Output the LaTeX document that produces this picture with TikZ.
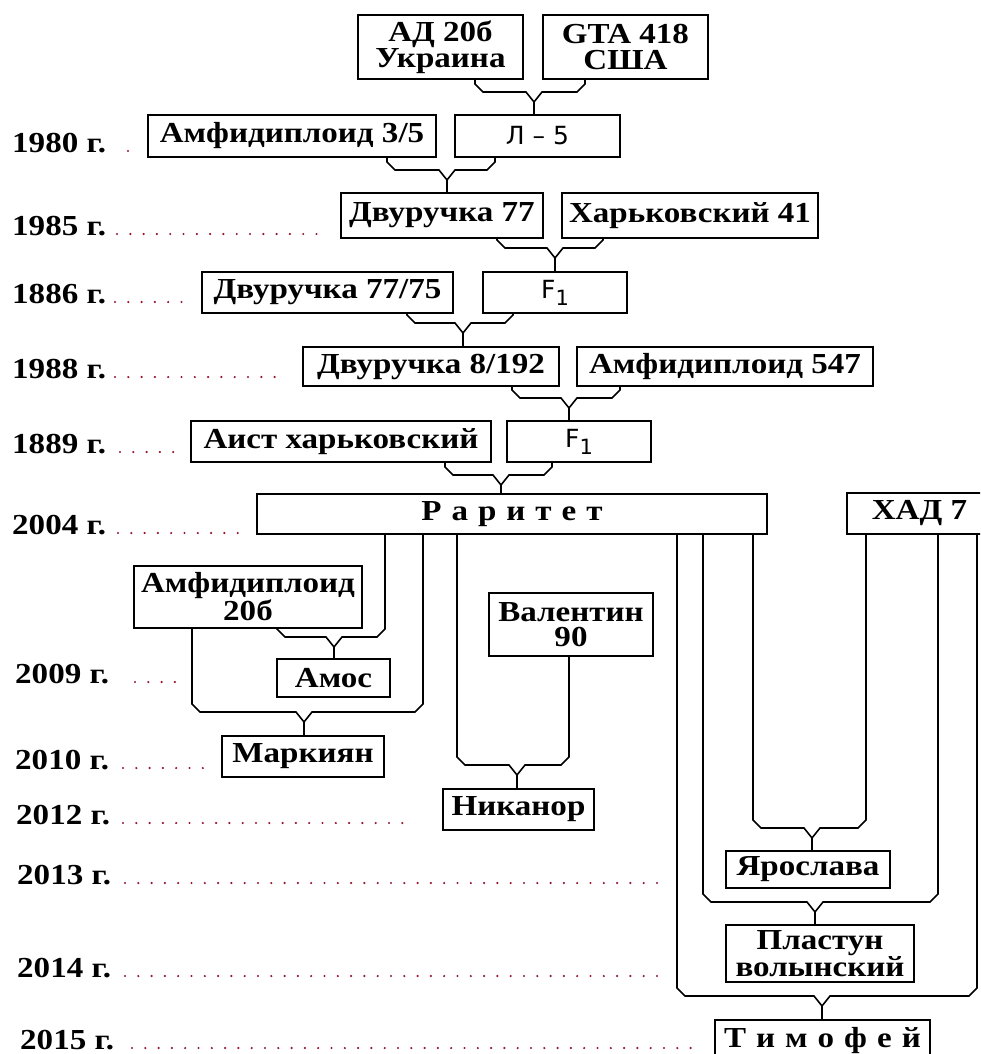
\documentclass[tikz,border=0pt]{standalone}
\usepackage{fontspec}
\setmainfont{Liberation Serif}[FakeStretch=1.14]
\newfontfamily\sansf{DejaVu Sans}
\definecolor{dotc}{RGB}{150,20,45}
\tikzset{
 bx/.style={draw, line width=1.6pt, inner sep=0pt, align=center, font=\fontsize{29}{25.5}\selectfont\bfseries},
 conn/.style={line width=1.6pt, line join=miter},
 yr/.style={anchor=base west, inner sep=0pt, font=\fontsize{29}{29}\selectfont\bfseries},
 dotl/.style={dotc, line width=2.4pt, line cap=round, dash pattern=on 0pt off 13.3pt},
}
\newcommand\boxn[6]{\node[bx, minimum width=#4pt, minimum height=#5pt] (#1) at (#2,#3) {#6};}
\newcommand\mergeY[7]{%
 \draw[conn] (#1.south -| #2,0) -- (#2,#7-8) -- (#2+8,#7) -- (#6-8,#7) -- (#6,#7+10) -- (#6+8,#7) -- (#4-8,#7) -- (#4,#7-8) -- (#3.south -| #4,0);
 \draw[conn] (#6,#7+10) -- (#5.north -| #6,0);}
\newcommand\yearl[6]{% name, x, baseline, text, dot start, dot end
 \node[yr] (#1) at (#2,#3) {#4};
 \coordinate (#1s) at (#5,#3-1);
 \coordinate (#1e) at (#6,#3-1);
 \draw[dotl] (#1s) -- (#1e);}
\newcommand\Fone{{\sansf\mdseries\fontsize{25}{25}\selectfont F\raisebox{-7pt}{\fontsize{21}{21}\selectfont 1}}}
\def\g{\hspace{10pt}}
\begin{document}
\begin{tikzpicture}[x=1pt,y=-1pt]
\useasboundingbox (0,0) rectangle (980,1054);
\clip (0,0) rectangle (980,1054);
% boxes
\boxn{ad}{440.5}{47}{165}{64}{АД 20б\\Украина}
\boxn{gta}{625.5}{47}{165}{64}{GTA 418\\США}
\boxn{amf35}{292}{136}{288}{42}{Амфидиплоид 3/5}
\boxn{l5}{537.5}{136}{165}{42}{{\sansf\mdseries\fontsize{25}{25}\selectfont Л – 5}}
\boxn{dv77}{442}{215.5}{202}{45}{Двуручка 77}
\boxn{har41}{690}{215.5}{256}{45}{Харьковский 41}
\boxn{dv7775}{327.5}{292.5}{251}{41}{Двуручка 77/75}
\boxn{f1a}{555}{292.5}{144}{41}{\Fone}
\boxn{dv8192}{431}{366.5}{256}{39}{Двуручка 8/192}
\boxn{amf547}{725}{366.5}{296}{39}{Амфидиплоид 547}
\boxn{aist}{341}{441.5}{300}{41}{Аист харьковский}
\boxn{f1b}{579}{441.5}{144}{41}{\Fone}
\boxn{rar}{512}{514}{510}{40}{Р\g а\g р\g и\g т\g е\g т}
\boxn{had}{941.5}{513.5}{189}{41}{ХАД 7\hspace*{44pt}}
\boxn{amf20}{248}{597}{228}{62}{Амфидиплоид\\20б}
\boxn{amos}{333.5}{678}{113}{38}{Амос}
\boxn{mark}{303}{756.5}{162}{41}{Маркиян}
\boxn{val}{571}{624.5}{164}{63}{Валентин\\90}
\boxn{nik}{518.5}{809.5}{151}{41}{Никанор}
\boxn{yar}{808}{869.5}{164}{37}{Ярослава}
\boxn{plast}{820}{953.5}{188}{57}{Пластун\\волынский}
\boxn{tim}{822.5}{1041}{215}{42}{Т\g и\g м\g о\g ф\g е\g й}
% connectors
\mergeY{ad}{475}{gta}{585}{l5}{534}{92}
\mergeY{amf35}{387}{l5}{495}{dv77}{447}{170}
\mergeY{dv77}{497}{har41}{603}{f1a}{555}{248}
\mergeY{dv7775}{407}{f1a}{513}{dv8192}{463}{323}
\mergeY{dv8192}{512}{amf547}{620}{f1b}{569}{398}
\mergeY{aist}{445}{f1b}{552}{rar}{501}{475}
\mergeY{amf20}{277}{rar}{385}{amos}{334}{637}
\mergeY{amf20}{192}{rar}{423}{mark}{304}{712}
\mergeY{rar}{457}{val}{569}{nik}{517}{765}
\mergeY{rar}{753}{had}{866}{yar}{812}{828}
\mergeY{rar}{703}{had}{938}{plast}{815}{902}
\mergeY{rar}{677}{had}{977}{tim}{822}{996}
% years
\yearl{y1980}{12}{152}{1980 г.}{128}{129}
\yearl{y1985}{12}{235}{1985 г.}{117}{326}
\yearl{y1886}{12}{303}{1886 г.}{115}{184}
\yearl{y1988}{12}{378}{1988 г.}{115}{278}
\yearl{y1889}{12}{453}{1889 г.}{120}{174}
\yearl{y2004}{12}{534}{2004 г.}{118}{239}
\yearl{y2009}{15}{683}{2009 г.}{135}{176}
\yearl{y2010}{15}{769}{2010 г.}{123}{203}
\yearl{y2012}{16}{824}{2012 г.}{123}{413}
\yearl{y2013}{17}{884}{2013 г.}{125}{664}
\yearl{y2014}{17}{977}{2014 г.}{125}{664}
\yearl{y2015}{20}{1049}{2015 г.}{132}{694}
\end{tikzpicture}
\end{document}
